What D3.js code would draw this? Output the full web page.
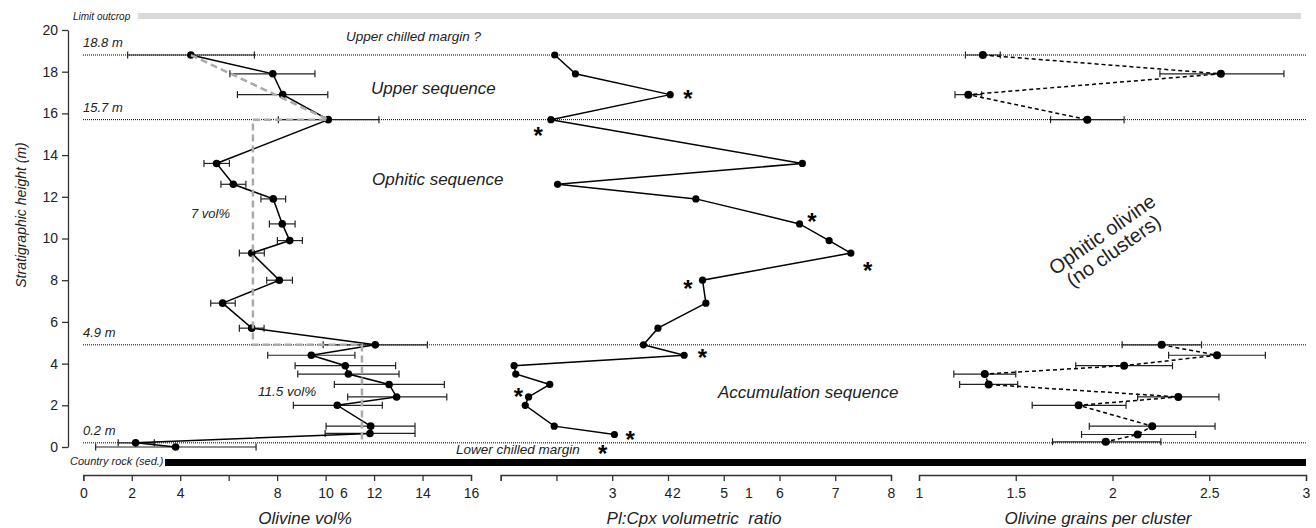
<!DOCTYPE html>
<html>
<head>
<meta charset="utf-8">
<script src="https://cdn.jsdelivr.net/npm/d3@7"></script>
<style>
  body { margin: 0; background: #fff; }
  svg text { font-family: "Liberation Sans", Arial, sans-serif; fill: #222; }
  .it { font-style: italic; }
</style>
</head>
<body>
<svg id="chart" width="1316" height="528"></svg>
<script>
// ---- data ----
// olivine vol% panel
var heights1 = [18.8, 17.9, 16.9, 15.7, 13.6, 12.6, 11.9, 10.7, 9.9, 9.3, 8.0, 6.9, 5.7, 4.9, 4.4, 3.9, 3.5, 3.0, 2.4, 2.0, 1.0, 0.65, 0.2, 0.0];
var olivine = [4.44, 7.82, 8.23, 10.11, 5.5, 6.19, 7.84, 8.21, 8.52, 6.95, 8.09, 5.75, 6.95, 12.05, 9.41, 10.81, 10.94, 12.62, 12.93, 10.48, 11.86, 11.83, 2.16, 3.81];
var olivineLo = [1.83, 6.05, 6.36, 8.05, 4.98, 5.68, 7.33, 7.68, 8.01, 6.44, 7.57, 5.26, 6.44, 9.9, 7.61, 8.74, 8.85, 10.36, 10.91, 8.67, 10.02, 9.98, 1.44, 0.51];
var olivineHi = [7.06, 9.56, 10.09, 12.2, 6.03, 6.71, 8.35, 8.74, 9.04, 7.47, 8.63, 6.27, 7.46, 14.2, 11.21, 12.89, 13.03, 14.9, 15.0, 12.34, 13.69, 13.69, 2.93, 7.13];
// average olivine (grey dashed)
var avgVol = [4.44, 10.11, 7, 7, 11.5, 11.5];
var avgH = [18.8, 15.7, 15.7, 4.9, 4.9, 0.2];

// Pl:Cpx panel
var heights2 = [18.8, 17.9, 16.9, 15.7, 13.6, 12.6, 11.9, 10.7, 9.9, 9.3, 8.0, 6.9, 5.7, 4.9, 4.4, 3.9, 3.5, 3.0, 2.4, 2.0, 1.0, 0.6];
var plcpx = [1.97, 2.34, 4.04, 1.90, 6.41, 2.02, 4.50, 6.36, 6.89, 7.28, 4.62, 4.68, 3.82, 3.56, 4.29, 1.24, 1.27, 1.88, 1.50, 1.44, 1.96, 3.04];
var starX = [4.36, 1.67, 6.58, 7.58, 4.36, 4.62, 1.32, 3.32, 2.83];
var starH = [16.88, 15.12, 11.0, 8.62, 7.77, 4.45, 2.6, 0.53, -0.14];

// grains per cluster panel (two groups)
var heights3a = [18.8, 17.9, 16.9, 15.7];
var grainsA = [1.33, 2.56, 1.255, 1.87];
var grainsALo = [1.24, 2.245, 1.186, 1.68];
var grainsAHi = [1.42, 2.886, 1.324, 2.06];
var heights3b = [4.9, 4.4, 3.9, 3.5, 3.0, 2.4, 2.0, 1.0, 0.6, 0.25];
var grainsB = [2.254, 2.54, 2.06, 1.34, 1.36, 2.34, 1.825, 2.205, 2.13, 1.965];
var grainsBLo = [2.05, 2.29, 1.81, 1.18, 1.21, 2.13, 1.585, 1.88, 1.84, 1.69];
var grainsBHi = [2.46, 2.79, 2.31, 1.50, 1.51, 2.55, 2.07, 2.53, 2.43, 2.25];

// boundaries
var markH = [18.8, 15.7, 4.9, 0.2];
var markLabels = ["18.8 m", "15.7 m", "4.9 m", "0.2 m"];

// ticks
var yTicks = [0, 2, 4, 6, 8, 10, 12, 14, 16, 18, 20];
var ticks1 = [0, 2, 4, 6, 8, 10, 12, 14, 16];
var labels1 = ["0", "2", "4", "", "8", "10", "12", "14", "16"];
var ticks2 = [1, 2, 3, 4, 5, 6, 7, 8];
var labels2 = ["", "", "3", "4", "5", "6", "7", "8"];
var ticks3 = [1, 1.5, 2, 2.5, 3];
var labels3 = ["1", "1.5", "2", "2.5", "3"];
// misplaced tick labels in the original
var strayText = ["6", "2", "1"];
var strayAxis = [1, 2, 2];
var strayVal = [10.75, 4.16, 5.45];

// ---- drawing ----
var svg = d3.select('#chart');

var y = d3.scaleLinear().domain([0, 20]).range([447, 30]);
var x1 = d3.scaleLinear().domain([0, 16]).range([83.3, 471]);
var x2 = d3.scaleLinear().domain([1, 8]).range([500.7, 891]);
var x3 = d3.scaleLinear().domain([1, 3]).range([919, 1306]);

// limit outcrop bar
svg.append('rect').attr('x', 138).attr('y', 13).attr('width', 1163).attr('height', 6).attr('fill', '#d9d9d9');
svg.append('text').attr('class', 'it').attr('x', 73).attr('y', 20).style('font-size', '10px').text('Limit outcrop');

// country rock bar
svg.append('rect').attr('x', 165).attr('y', 459).attr('width', 1141).attr('height', 7).attr('fill', '#000');
svg.append('text').attr('class', 'it').attr('x', 70).attr('y', 465).style('font-size', '11px').text('Country rock (sed.)');

// dotted boundaries
svg.selectAll('.mark')
  .data(markH)
  .join('line')
  .attr('x1', 83).attr('x2', 1306)
  .attr('y1', d => y(d)).attr('y2', d => y(d))
  .attr('stroke', '#000').attr('stroke-width', 1).attr('stroke-dasharray', '1,1');

svg.selectAll('.markLabel')
  .data(markH)
  .join('text')
  .attr('class', 'it')
  .attr('x', 83)
  .attr('y', d => y(d) - 8)
  .style('font-size', '13px')
  .text((d, i) => markLabels[i]);

// y axis
var yAxis = d3.axisLeft(y).tickValues(yTicks).tickSize(6).tickSizeOuter(0).tickPadding(4);
var gy = svg.append('g').attr('transform', 'translate(68,0)').call(yAxis);
gy.selectAll('text').style('font-size', '14px');
gy.selectAll('path, line').attr('stroke', '#333').attr('stroke-width', 1.3);

svg.append('text').attr('class', 'it')
  .attr('transform', 'translate(26,215) rotate(-90)')
  .attr('text-anchor', 'middle')
  .style('font-size', '14px')
  .text('Stratigraphic height (m)');

// bottom axes
function bottomAxis(scale, ticks, labels) {
  var ax = d3.axisBottom(scale).tickValues(ticks).tickSize(6).tickSizeOuter(6).tickPadding(7)
    .tickFormat((d, i) => labels[i]);
  var g = svg.append('g').attr('transform', 'translate(0,475)').call(ax);
  g.selectAll('text').style('font-size', '14px');
  g.selectAll('path, line').attr('stroke', '#333').attr('stroke-width', 1.3);
  return g;
}
bottomAxis(x1, ticks1, labels1);
bottomAxis(x2, ticks2, labels2);
bottomAxis(x3, ticks3, labels3);

var scales = {1: x1, 2: x2};
svg.selectAll('.stray')
  .data(strayText)
  .join('text')
  .attr('x', (d, i) => scales[strayAxis[i]](strayVal[i]))
  .attr('y', 498)
  .attr('text-anchor', 'middle')
  .style('font-size', '14px')
  .text(d => d);

svg.append('text').attr('class', 'it').attr('x', 305).attr('y', 524).attr('text-anchor', 'middle').style('font-size', '17px').text('Olivine vol%');
svg.append('text').attr('class', 'it').attr('x', 694).attr('y', 524).attr('text-anchor', 'middle').style('font-size', '17px').style('white-space', 'pre').text('Pl:Cpx volumetric  ratio');
svg.append('text').attr('class', 'it').attr('x', 1098).attr('y', 524).attr('text-anchor', 'middle').style('font-size', '17px').text('Olivine grains per cluster');

// annotations
function note(txt, x, yy, size, cls) {
  return svg.append('text').attr('class', cls || 'it').attr('x', x).attr('y', yy).style('font-size', size + 'px').text(txt);
}
note('Upper chilled margin ?', 346, 41, 13.5);
note('Upper sequence', 371, 94, 17);
note('Ophitic sequence', 372, 185, 17);
note('Accumulation sequence', 718, 398, 17);
note('Lower chilled margin', 456, 454, 13.5);
note('7 vol%', 191, 218, 13);
note('11.5 vol%', 258, 396, 13.5);

var rot = svg.append('text').attr('transform', 'translate(1106,240) rotate(-35)')
  .attr('text-anchor', 'middle').style('font-size', '20px');
rot.append('tspan').attr('x', 0).attr('dy', 0).text('Ophitic olivine');
rot.append('tspan').attr('x', 0).attr('dy', 20).text('(no clusters)');

// error bars helper
function errorBars(xs, lo, hi, hs) {
  var g = svg.append('g').attr('stroke', '#222').attr('stroke-width', 1.2);
  g.selectAll('.eb').data(hs).join('line')
    .attr('x1', (d, i) => xs(lo[i])).attr('x2', (d, i) => xs(hi[i]))
    .attr('y1', d => y(d)).attr('y2', d => y(d));
  g.selectAll('.capL').data(hs).join('line')
    .attr('x1', (d, i) => xs(lo[i])).attr('x2', (d, i) => xs(lo[i]))
    .attr('y1', d => y(d) - 3.5).attr('y2', d => y(d) + 3.5);
  g.selectAll('.capR').data(hs).join('line')
    .attr('x1', (d, i) => xs(hi[i])).attr('x2', (d, i) => xs(hi[i]))
    .attr('y1', d => y(d) - 3.5).attr('y2', d => y(d) + 3.5);
}

// panel 1
errorBars(x1, olivineLo, olivineHi, heights1);
var line1 = d3.line().x(d => x1(d[0])).y(d => y(d[1]));
svg.append('path')
  .attr('d', line1(olivine.map((v, i) => [v, heights1[i]])))
  .attr('fill', 'none').attr('stroke', '#000').attr('stroke-width', 1.5);
svg.selectAll('.p1').data(olivine).join('circle')
  .attr('cx', d => x1(d)).attr('cy', (d, i) => y(heights1[i])).attr('r', 3.8).attr('fill', '#000');
svg.append('path')
  .attr('d', line1(avgVol.map((v, i) => [v, avgH[i]])))
  .attr('fill', 'none').attr('stroke', '#aaa').attr('stroke-width', 2.5).attr('stroke-dasharray', '7,4');

// panel 2
var line2 = d3.line().x(d => x2(d[0])).y(d => y(d[1]));
svg.append('path')
  .attr('d', line2(plcpx.map((v, i) => [v, heights2[i]])))
  .attr('fill', 'none').attr('stroke', '#000').attr('stroke-width', 1.5);
svg.selectAll('.p2').data(plcpx).join('circle')
  .attr('cx', d => x2(d)).attr('cy', (d, i) => y(heights2[i])).attr('r', 3.6).attr('fill', '#000');
svg.selectAll('.star').data(starX).join('text')
  .attr('x', d => x2(d)).attr('y', (d, i) => y(starH[i]) + 12)
  .attr('text-anchor', 'middle')
  .style('font-size', '24px').style('font-weight', 'bold').style('fill', '#000')
  .text('*');

// panel 3
var line3 = d3.line().x(d => x3(d[0])).y(d => y(d[1]));
[[grainsA, grainsALo, grainsAHi, heights3a], [grainsB, grainsBLo, grainsBHi, heights3b]].forEach(function(s) {
  errorBars(x3, s[1], s[2], s[3]);
  svg.append('path')
    .attr('d', line3(s[0].map((v, i) => [v, s[3][i]])))
    .attr('fill', 'none').attr('stroke', '#000').attr('stroke-width', 1.5).attr('stroke-dasharray', '4,3');
  svg.append('g').selectAll('circle').data(s[0]).join('circle')
    .attr('cx', d => x3(d)).attr('cy', (d, i) => y(s[3][i])).attr('r', 4).attr('fill', '#000');
});
</script>
</body>
</html>
